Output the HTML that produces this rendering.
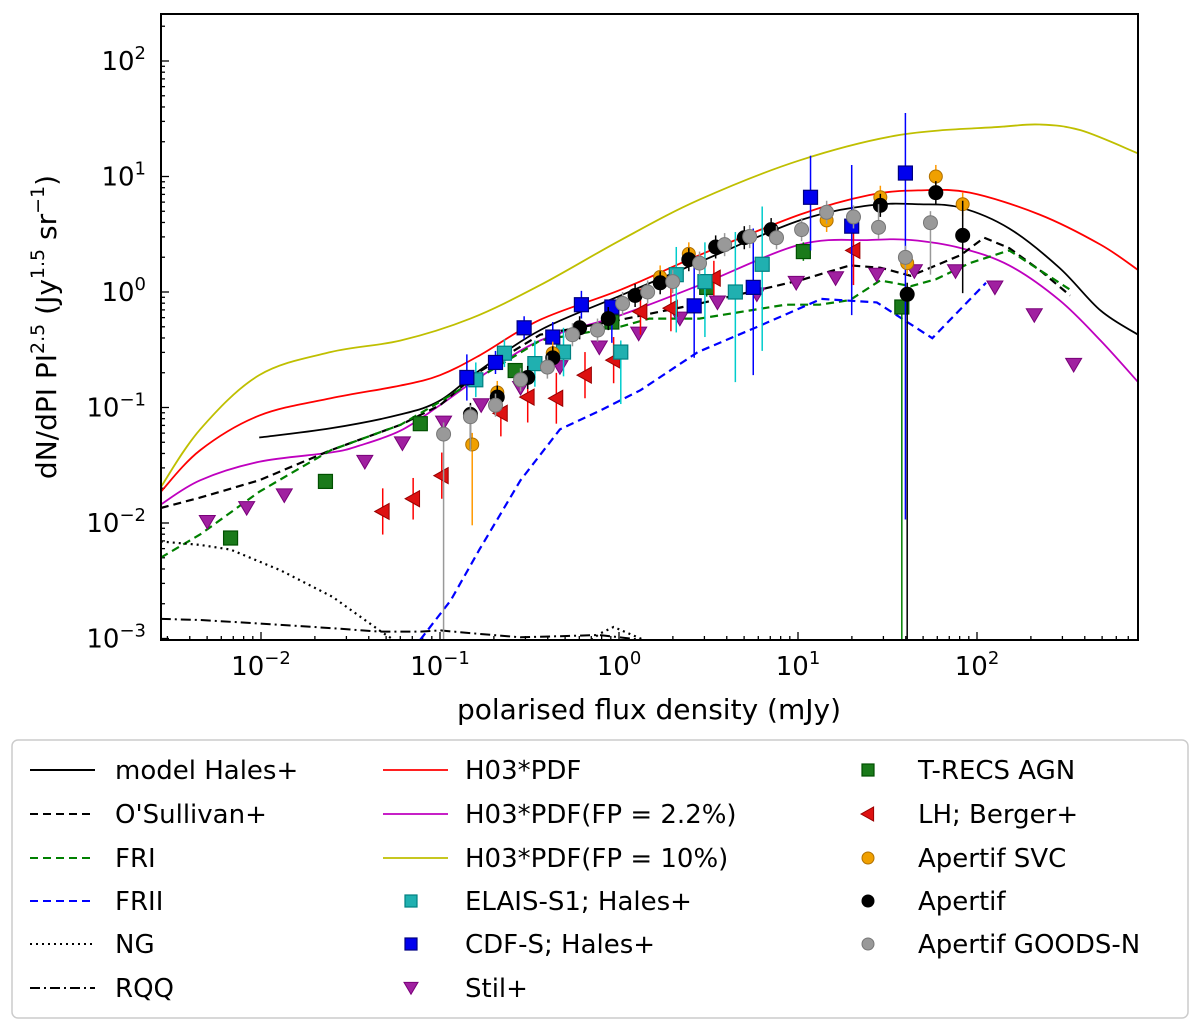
<!DOCTYPE html>
<html><head><meta charset="utf-8"><style>
html,body{margin:0;padding:0;background:#fff;}
svg{display:block;font-family:"DejaVu Sans","Liberation Sans",sans-serif;}
</style></head><body>
<svg id="chart" width="1200" height="1029" viewBox="0 0 1200 1029" xmlns="http://www.w3.org/2000/svg">
<defs><clipPath id="pc"><rect x="161" y="14" width="977" height="626"/></clipPath></defs>
<g id="grid"></g>
<g id="curves" clip-path="url(#pc)"></g>
<g id="points" clip-path="url(#pc)"></g>
<rect x="161" y="14" width="977" height="626" fill="none" stroke="#000" stroke-width="2"/>
<text x="649" y="719" font-size="28" text-anchor="middle">polarised flux density (mJy)</text>
<text transform="translate(56,327) rotate(-90)" font-size="28" text-anchor="middle">dN/dPI PI<tspan dy="-12" font-size="19">2.5</tspan><tspan dy="12"> (Jy</tspan><tspan dy="-12" font-size="19">1.5</tspan><tspan dy="12"> sr</tspan><tspan dy="-12" font-size="19">−1</tspan><tspan dy="12">)</tspan></text>
<g id="legend"></g>
</svg>
<script>
// log10 of x (mJy) and log10 of y
const yellowX=[-2.56,-2.34,-2.01,-1.61,-1.22,-0.83,-0.44,0.01,0.45,1.01,1.57,2.13,2.35,2.58,2.90];
const yellowY=[-1.69,-1.19,-0.72,-0.52,-0.42,-0.23,0.06,0.45,0.80,1.14,1.36,1.43,1.45,1.40,1.20];
const redX=[-2.56,-2.34,-2.01,-1.61,-1.22,-1.00,-0.78,-0.44,0.01,0.45,1.01,1.40,1.68,1.96,2.35,2.69,2.90];
const redY=[-1.73,-1.37,-1.07,-0.92,-0.81,-0.72,-0.55,-0.24,0.02,0.32,0.67,0.84,0.88,0.86,0.67,0.41,0.19];
const hidesX=[-2.01,-1.61,-1.22,-1.00,-0.78,-0.44,0.01,0.45,1.01,1.40,1.68,1.91,2.18,2.46,2.69,2.90];
const hidesY=[-1.26,-1.18,-1.06,-0.94,-0.68,-0.33,-0.03,0.26,0.62,0.75,0.76,0.73,0.55,0.21,-0.16,-0.37];
const magX=[-2.56,-2.34,-2.01,-1.61,-1.45,-1.22,-1.00,-0.78,-0.44,0.01,0.45,1.01,1.40,1.63,1.91,2.18,2.46,2.69,2.90];
const magY=[-1.84,-1.63,-1.47,-1.39,-1.33,-1.20,-0.98,-0.74,-0.42,-0.20,0.06,0.41,0.45,0.45,0.38,0.23,-0.07,-0.42,-0.78];
const osX=[-2.56,-2.34,-2.01,-1.61,-1.22,-1.00,-0.78,-0.44,0.01,0.45,0.73,1.01,1.29,1.46,1.63,1.74,1.91,2.04,2.18,2.35,2.52];
const osY=[-1.87,-1.78,-1.63,-1.37,-1.15,-0.98,-0.69,-0.37,-0.24,-0.10,0,0.10,0.23,0.21,0.14,0.21,0.32,0.47,0.38,0.19,-0.03];
const friX=[-2.56,-2.34,-2.01,-1.61,-1.22,-1.00,-0.78,-0.44,0.01,0.17,0.45,0.73,0.93,1.12,1.29,1.46,1.63,1.77,1.96,2.18,2.35,2.52];
const friY=[-2.30,-2.10,-1.73,-1.37,-1.15,-0.95,-0.74,-0.42,-0.30,-0.23,-0.23,-0.16,-0.11,-0.11,-0.07,0.10,0.05,0.11,0.25,0.36,0.19,0.02];
const friiX=[-1.11,-0.94,-0.78,-0.55,-0.33,-0.11,0.12,0.44,0.79,1.13,1.44,1.75,2.05];
const friiY=[-3.01,-2.67,-2.23,-1.63,-1.19,-1.03,-0.85,-0.52,-0.29,-0.06,-0.09,-0.40,0.08];
const ngX=[-2.56,-2.34,-2.17,-2.03,-1.89,-1.60,-1.32,-1.25,-1.10,-0.16,-0.11,-0.03,0.06,0.15,0.30];
const ngY=[-2.16,-2.19,-2.23,-2.32,-2.41,-2.64,-2.95,-3.02,-3.3,-3.02,-2.96,-2.90,-2.96,-3.02,-3.3];
const rqqX=[-2.56,-2.34,-2.01,-1.61,-1.34,-1.11,-1.00,-0.78,-0.55,-0.33,-0.11,0.12];
const rqqY=[-2.83,-2.84,-2.87,-2.91,-2.94,-2.94,-2.93,-2.96,-2.99,-2.98,-2.97,-3.01];

const trecsX=[-2.17,-1.64,-1.11,-0.58,-0.04,0.49,1.03,1.58];
const trecsY=[-2.13,-1.64,-1.14,-0.68,-0.26,0.04,0.35,-0.13];
const trecsLo=[0,0,0,0,0,0.08,0.08,3];
const trecsHi=[0,0,0,0,0,0.08,0.08,0];
const stilX=[-2.30,-2.08,-1.87,-1.42,-1.21,-0.98,-0.77,-0.55,-0.33,-0.11,0.11,0.34,0.55,0.77,0.99,1.21,1.44,1.65,1.88,2.10,2.32,2.54];
const stilY=[-1.99,-1.87,-1.76,-1.47,-1.31,-1.13,-0.98,-0.83,-0.65,-0.48,-0.36,-0.23,-0.09,-0.02,0.08,0.12,0.15,0.18,0.18,0.04,-0.20,-0.63];
const lhX=[-1.32,-1.15,-0.99,-0.66,-0.51,-0.35,-0.19,-0.03,0.12,0.29,0.53,1.31];
const lhY=[-1.90,-1.79,-1.59,-1.05,-0.91,-0.92,-0.72,-0.59,-0.17,-0.14,0.12,0.36];
const lhErr=[0.2,0.18,0.2,0.2,0.22,0.22,0.2,0.2,0.2,0.2,0.15,0.3];
const cdfsX=[-0.85,-0.69,-0.53,-0.37,-0.21,-0.04,0.42,0.75,1.07,1.30,1.60];
const cdfsY=[-0.74,-0.61,-0.31,-0.39,-0.11,-0.13,-0.12,0.04,0.82,0.57,1.03];
const cdfsLo=[0.2,0.1,0.1,0.26,0.12,0.31,0.45,0.76,0.46,0.77,3];
const cdfsHi=[0.2,0.1,0.1,0.13,0.12,0.06,0.35,0.51,0.36,0.53,0.52];
const elaisX=[-0.80,-0.64,-0.47,-0.31,0.01,0.32,0.48,0.65,0.80];
const elaisY=[-0.76,-0.53,-0.62,-0.52,-0.52,0.15,0.09,0.00,0.24];
const elaisLo=[0.15,0.12,0.2,0.21,0.45,0.5,0.48,0.78,0.75];
const elaisHi=[0.15,0.12,0.2,0.21,0.1,0.24,0.34,0.52,0.5];
const svcX=[-0.82,-0.68,-0.37,0.23,0.39,1.16,1.46,1.61,1.77,1.92];
const svcY=[-1.32,-0.87,-0.53,0.13,0.33,0.62,0.82,0.25,1.00,0.76];
const svcLo=[0.7,0.1,0.1,0.1,0.1,0.1,0.1,0.1,0.1,0.1];
const svcHi=[0.1,0.1,0.1,0.1,0.1,0.1,0.1,0.1,0.1,0.1];
const apX=[-0.83,-0.68,-0.51,-0.37,-0.22,-0.06,0.09,0.23,0.39,0.54,0.70,0.85,1.46,1.61,1.77,1.92];
const apY=[-1.06,-0.91,-0.74,-0.57,-0.31,-0.23,-0.03,0.08,0.28,0.39,0.47,0.54,0.75,-0.02,0.86,0.49];
const apLo=[0.3,0.1,0.1,0.1,0.1,0.1,0.1,0.1,0.1,0.1,0.1,0.1,0.1,3,0.1,0.5];
const apHi=[0.1,0.1,0.1,0.1,0.1,0.1,0.1,0.1,0.1,0.1,0.1,0.1,0.1,0.1,0.1,0.3];
const gnX=[-0.98,-0.83,-0.69,-0.55,-0.40,-0.26,-0.12,0.02,0.16,0.30,0.45,0.59,0.73,0.88,1.02,1.16,1.31,1.45,1.60,1.74];
const gnY=[-1.23,-1.08,-0.98,-0.76,-0.65,-0.37,-0.33,-0.10,0.00,0.09,0.25,0.41,0.48,0.47,0.54,0.69,0.65,0.56,0.30,0.60];
const gnLo=[3,0.3,0.1,0.1,0.1,0.1,0.1,0.1,0.1,0.1,0.1,0.1,0.1,0.1,0.1,0.1,0.1,0.1,0.1,0.45];
const gnHi=[0.1,0.1,0.1,0.1,0.1,0.1,0.1,0.1,0.1,0.1,0.1,0.1,0.1,0.1,0.1,0.1,0.1,0.2,0.1,0.1];

const NS='http://www.w3.org/2000/svg';
const X=l=>619+179*l, Y=l=>292-115.5*l;
function mk(tag,attrs,parent){const e=document.createElementNS(NS,tag);for(const k in attrs)e.setAttribute(k,attrs[k]);parent.appendChild(e);return e;}
const grid=document.getElementById('grid'),curves=document.getElementById('curves'),points=document.getElementById('points'),legend=document.getElementById('legend');

for(let d=-3;d<=2;d++){for(let m=1;m<10;m++){const l=d+Math.log10(m);const x=X(l);if(x<161||x>1138)continue;
 const t=mk('line',{x1:x,x2:x,y1:640,y2:640-(m==1?8:4),stroke:'#000','stroke-width':1.3},grid);
 }}
for(let d=-3;d<=2;d++){for(let m=1;m<10;m++){const l=d+Math.log10(m);const y=Y(l);if(y<14||y>640)continue;
 const t=mk('line',{x1:161,x2:161+(m==1?8:4),y1:y,y2:y,stroke:'#000','stroke-width':1.3},grid);
 }}
const xTickExps=[-2,-1,0,1,2], yTickExps=[-3,-2,-1,0,1,2];
xTickExps.forEach(e=>{const t=mk('text',{x:X(e),y:675,'font-size':26,'text-anchor':'middle'},grid);
 
 t.innerHTML='10<tspan dy="-11" font-size="18">'+(e<0?'−'+(-e):e)+'</tspan>';});
yTickExps.forEach(e=>{const t=mk('text',{x:146,y:Y(e)+9,'font-size':26,'text-anchor':'end'},grid);
 
 t.innerHTML='10<tspan dy="-11" font-size="18">'+(e<0?'−'+(-e):e)+'</tspan>';});

function pathStr(xs,ys,smooth){const p=xs.map((v,i)=>[X(v),Y(ys[i])]);
 if(!smooth)return 'M'+p.map(q=>q[0].toFixed(1)+','+q[1].toFixed(1)).join('L');
 let s='M'+p[0][0]+','+p[0][1];
 for(let i=0;i<p.length-1;i++){const p0=p[i-1]||p[i],p1=p[i],p2=p[i+1],p3=p[i+2]||p2;
  s+='C'+(p1[0]+(p2[0]-p0[0])/6)+','+(p1[1]+(p2[1]-p0[1])/6)+' '+(p2[0]-(p3[0]-p1[0])/6)+','+(p2[1]-(p3[1]-p1[1])/6)+' '+p2[0]+','+p2[1];}
 return s;}
const curveDefs=[
 ['yellow-curve',yellowX,yellowY,'#bfbf00','',1.8,true],
 ['red-curve',redX,redY,'#ff0000','',1.8,true],
 ['model-hales-curve',hidesX,hidesY,'#000','',1.8,true],
 ['magenta-curve',magX,magY,'#bf00bf','',1.8,true],
 ['osullivan-curve',osX,osY,'#000','8,5',2.2,false],
 ['fri-curve',friX,friY,'#008000','8,5',2.2,false],
 ['frii-curve',friiX,friiY,'#0000ff','8,5',2.2,false],
 ['ng-curve',ngX,ngY,'#000','2,4',2.2,false],
 ['rqq-curve',rqqX,rqqY,'#000','10,4,2,4',2,false]];
curveDefs.forEach(c=>{const p=mk('path',{d:pathStr(c[1],c[2],c[6]),fill:'none',stroke:c[3],'stroke-width':c[5],'stroke-dasharray':c[4]},curves);
 });

function marker(shape,x,y,fill,edge,parent,s){let e;
 if(shape=='sq')e=mk('rect',{x:x-s,y:y-s,width:2*s,height:2*s,fill:fill,stroke:edge,'stroke-width':1.2},parent);
 else if(shape=='c')e=mk('circle',{cx:x,cy:y,r:s,fill:fill,stroke:edge,'stroke-width':1},parent);
 else if(shape=='dn')e=mk('polygon',{points:(x-s)+','+(y-s*0.8)+' '+(x+s)+','+(y-s*0.8)+' '+x+','+(y+s*0.9),fill:fill,stroke:edge,'stroke-width':1},parent);
 else e=mk('polygon',{points:(x-s)+','+y+' '+(x+s*0.8)+','+(y-s)+' '+(x+s*0.8)+','+(y+s),fill:fill,stroke:edge,'stroke-width':1},parent);
 return e;}
function series(name,xs,ys,lo,hi,shape,fill,edge,ecol,s){
 const g=mk('g',{},points);
 xs.forEach((v,i)=>{const x=X(v),y=Y(ys[i]);
  if(lo&&(lo[i]||hi[i])){const b=mk('line',{x1:x,x2:x,y1:Y(ys[i]+hi[i]),y2:Y(ys[i]-lo[i]),stroke:ecol,'stroke-width':1.5},g);
   }
  const m=marker(shape,x,y,fill,edge,g,s);
  });}
series('stil-points',stilX,stilY,null,null,'dn','#a020a0','#7a007a','',8);
series('trecs-points',trecsX,trecsY,trecsLo,trecsHi,'sq','#1a7a1a','#005000','#008000',7);
series('lh-berger-points',lhX,lhY,lhErr,lhErr,'lt','#dd1111','#990000','#ff0000',8);
series('elais-points',elaisX,elaisY,elaisLo,elaisHi,'sq','#20b0b0','#008080','#00cccc',7);
series('cdfs-points',cdfsX,cdfsY,cdfsLo,cdfsHi,'sq','#0000ee','#000080','#0000ff',7);
series('apertif-svc-points',svcX,svcY,svcLo,svcHi,'c','#f0a000','#b07000','#ff9900',6.5);
series('apertif-points',apX,apY,apLo,apHi,'c','#000','#000','#000',7);
series('goods-n-points',gnX,gnY,gnLo,gnHi,'c','#999','#777','#999',7);

const lb=mk('rect',{x:12,y:740,width:1176,height:278,rx:6,fill:'#fff',stroke:'#ccc','stroke-width':1.5},legend);

const rows=[770,814,858,901,944,988];
function legText(x,y,t){const e=mk('text',{x:x,y:y+9,'font-size':26},legend);e.textContent=t;}
function legLine(x,y,col,dash,w){const e=mk('line',{x1:x,x2:x+65,y1:y,y2:y,stroke:col,'stroke-width':w,'stroke-dasharray':dash},legend);}
function legMark(x,y,shape,fill,edge,s){const e=marker(shape,x,y,fill,edge,legend,s);}
[['model Hales+','#000',''],["O'Sullivan+",'#000','8,5'],['FRI','#008000','8,5'],['FRII','#0000ff','8,5'],['NG','#000','2,4'],['RQQ','#000','10,4,2,4']].forEach((r,i)=>{legLine(30,rows[i],r[1],r[2],2);legText(115,rows[i],r[0]);});
[['H03*PDF','#ff0000'],['H03*PDF(FP = 2.2%)','#bf00bf'],['H03*PDF(FP = 10%)','#bfbf00']].forEach((r,i)=>{legLine(383,rows[i],r[1],'',1.8);legText(465,rows[i],r[0]);});
legMark(411,rows[3],'sq','#20b0b0','#008080',6);legText(465,rows[3],'ELAIS-S1; Hales+');
legMark(411,rows[4],'sq','#0000ee','#000080',6);legText(465,rows[4],'CDF-S; Hales+');
legMark(411,rows[5],'dn','#a020a0','#7a007a',7);legText(465,rows[5],'Stil+');
legMark(868,rows[0],'sq','#1a7a1a','#005000',6);legText(918,rows[0],'T-RECS AGN');
legMark(868,rows[1],'lt','#dd1111','#990000',7);legText(918,rows[1],'LH; Berger+');
legMark(868,rows[2],'c','#f0a000','#b07000',6);legText(918,rows[2],'Apertif SVC');
legMark(868,rows[3],'c','#000','#000',6);legText(918,rows[3],'Apertif');
legMark(868,rows[4],'c','#999','#777',6);legText(918,rows[4],'Apertif GOODS-N');
</script>
</body></html>
